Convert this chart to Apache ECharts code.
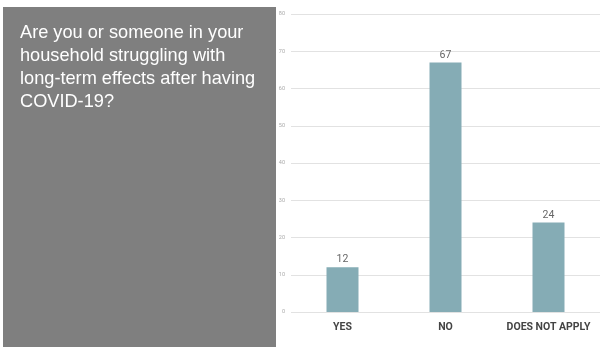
<!DOCTYPE html>
<html><head><meta charset="utf-8">
<script src="https://cdn.jsdelivr.net/npm/echarts@6/dist/echarts.min.js"></script>
<style>html,body{margin:0;padding:0;background:#fff}#c{width:600px;height:347px}</style>
</head><body><div id="c"></div>
<script>
const categories = ['YES', 'NO', 'DOES NOT APPLY'];
const values = [12, 67, 24];
const yTicks = [0, 10, 20, 30, 40, 50, 60, 70, 80];
const titleLines = ['Are you or someone in your', 'household struggling with', 'long-term effects after having', 'COVID-19?'];

const chart = echarts.init(document.getElementById('c'), null, {renderer: 'canvas'});
chart.setOption({
  animation: false,
  graphic: [
    {type: 'rect', left: 3, top: 7, shape: {width: 273, height: 345}, style: {fill: '#7f7f7f'}, z: 0},
    {type: 'text', left: 20, top: 21, style: {text: titleLines.join('\n'), fill: '#ffffff', font: '18.2px "Liberation Sans", Arial, sans-serif', lineHeight: 23}, z: 1}
  ],
  grid: {left: 291, right: 0, top: 14, bottom: 35, containLabel: false},
  xAxis: {
    type: 'category', data: categories,
    axisLine: {show: false}, axisTick: {show: false},
    axisLabel: {interval: 0, color: '#444', fontSize: 10.5, fontWeight: 'bold', fontFamily: 'Roboto, sans-serif', margin: 10}
  },
  yAxis: {
    type: 'value', min: 0, max: 80, interval: 10,
    axisLine: {show: false}, axisTick: {show: false},
    axisLabel: {color: '#aaa', fontSize: 5.5, fontFamily: 'Roboto, sans-serif', margin: 6,
      formatter: v => yTicks.includes(v) ? String(v) : ''},
    splitLine: {lineStyle: {color: '#e2e2e2', width: 1}}
  },
  series: [{
    type: 'bar', data: values, barWidth: 32,
    itemStyle: {color: '#85acb5'},
    label: {show: true, position: 'top', color: '#666', fontSize: 10.5, fontFamily: 'Roboto, sans-serif', distance: 2}
  }]
});
</script></body></html>
